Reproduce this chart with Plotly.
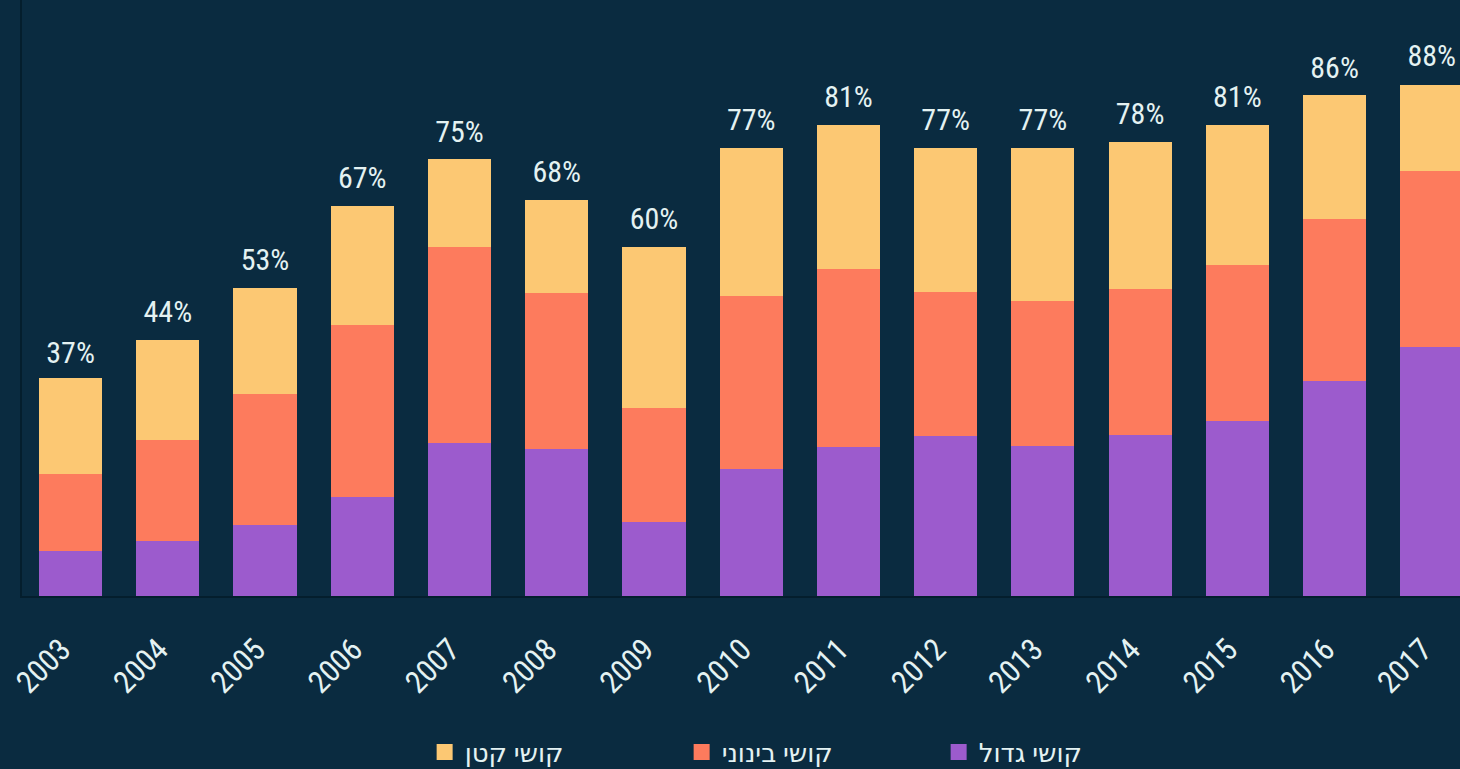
import plotly.graph_objects as go

BACKGROUND = "#0a2b40"
AXIS_COLOR = "#041e2d"
TEXT_COLOR = "#e4f2f2"
FONT_FAMILY = "Roboto Condensed, Roboto, sans-serif"
LEGEND_FONT = "Noto Sans, DejaVu Sans, sans-serif"

YELLOW = "#fcc873"
SALMON = "#fd7b5d"
PURPLE = "#9c5bcd"

years = ["2003", "2004", "2005", "2006", "2007", "2008", "2009", "2010",
         "2011", "2012", "2013", "2014", "2015", "2016", "2017"]

# share of each difficulty level, percent
big = [7.7, 9.5, 12.2, 17.0, 26.3, 25.3, 12.7, 21.8, 25.6, 27.5, 25.8, 27.7, 30.1, 36.9, 42.8]
medium = [13.3, 17.3, 22.5, 29.6, 33.7, 26.8, 19.6, 29.7, 30.6, 24.7, 24.9, 25.0, 26.8, 27.9, 30.2]
small = [16.5, 17.2, 18.3, 20.4, 15.0, 15.9, 27.6, 25.5, 24.8, 24.8, 26.3, 25.3, 24.1, 21.2, 14.8]
totals = [37, 44, 53, 67, 75, 68, 60, 77, 81, 77, 77, 78, 81, 86, 88]

series = [
    ("קושי גדול", big, PURPLE),
    ("קושי בינוני", medium, SALMON),
    ("קושי קטן", small, YELLOW),
]

fig = go.Figure()
for name, vals, color in series:
    fig.add_bar(x=years, y=vals, name=name, marker_color=color,
                marker_line_width=0, showlegend=False)

# total labels; invisible marker pushes the text up a bit
fig.add_scatter(
    x=years, y=totals, mode="markers+text",
    marker=dict(size=15, opacity=0),
    text=[f"{t}%" for t in totals], textposition="top center",
    textfont=dict(size=30, color=TEXT_COLOR, family=FONT_FAMILY),
    showlegend=False, hoverinfo="skip",
)

# legend entries with bigger squares than the bar legend gives
for name, vals, color in reversed(series):
    fig.add_scatter(x=[None], y=[None], mode="markers", name=name,
                    marker=dict(symbol="square", size=16, color=color))

fig.update_layout(
    width=1460, height=769,
    paper_bgcolor=BACKGROUND, plot_bgcolor=BACKGROUND,
    font=dict(family=FONT_FAMILY, color=TEXT_COLOR),
    barmode="stack", bargap=0.35,
    margin=dict(l=22, r=0, t=0, b=173, autoexpand=False),
    legend=dict(
        orientation="h", traceorder="normal",
        x=0.28, xanchor="left", y=-0.262, yanchor="middle",
        font=dict(size=26, color=TEXT_COLOR, family=LEGEND_FONT),
        entrywidth=212, entrywidthmode="pixels",
        bgcolor="rgba(0,0,0,0)",
    ),
)
fig.update_xaxes(
    range=[-0.5, 14.29], showgrid=False, showline=True,
    linecolor=AXIS_COLOR, linewidth=2,
    tickangle=-45, tickfont=dict(size=31, color=TEXT_COLOR),
    ticks="", ticklabelstandoff=21, ticklabelshift=-9,
)
fig.update_yaxes(
    range=[0, 102.4], showgrid=False, zeroline=False, showline=True,
    linecolor=AXIS_COLOR, linewidth=2, showticklabels=False, ticks="",
)

fig.write_html("out.html", config={"displayModeBar": False},
               post_script="document.body.style.margin = '0';")
